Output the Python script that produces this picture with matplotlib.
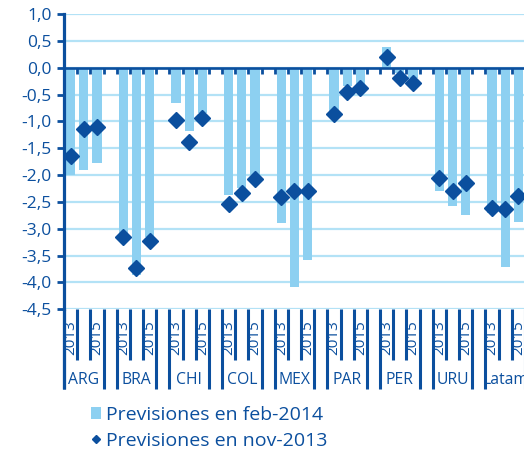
import matplotlib
matplotlib.use("Agg")
from matplotlib import pyplot as plt
from matplotlib import transforms
from matplotlib.ticker import FuncFormatter

groups = ["ARG", "BRA", "CHI", "COL", "MEX", "PAR", "PER", "URU", "Latam"]
years = ["2013", "2014", "2015"]
shown_years = ["2013", "2015"]

# previsiones en feb-2014 (barras)
feb_2014 = [
    -2.00, -1.90, -1.77,
    -3.10, -3.86, -3.15,
    -0.65, -1.17, -0.85,
    -2.37, -2.25, -2.00,
    -2.89, -4.09, -3.59,
    -0.80, -0.35, -0.30,
    0.39, -0.10, -0.20,
    -2.30, -2.57, -2.74,
    -2.70, -3.72, -2.87,
]
# previsiones en nov-2013 (rombos)
nov_2013 = [
    -1.64, -1.14, -1.11,
    -3.16, -3.74, -3.23,
    -0.97, -1.38, -0.94,
    -2.54, -2.34, -2.08,
    -2.40, -2.30, -2.30,
    -0.87, -0.45, -0.37,
    0.19, -0.19, -0.29,
    -2.06, -2.30, -2.15,
    -2.61, -2.64, -2.39,
]

DARK = "#0b4f9e"
LIGHT = "#8dd0f1"
GRID = "#b3e2f6"

plt.rcParams["font.family"] = ["Open Sans", "DejaVu Sans"]

W, H = 524, 457
fig = plt.figure(figsize=(W / 100, H / 100), dpi=100)
slot = 13.17
ax = fig.add_axes([64 / W, (H - 309.3) / H, 36 * slot / W, 295.3 / H])

# 4 slots per group: 3 years + hueco
xs = []
for g in range(len(groups)):
    for k in range(len(years)):
        xs.append(4 * g + k)

bars = ax.bar(xs, feb_2014, width=0.7, color=LIGHT, zorder=2, label="Previsiones en feb-2014")
dots, = ax.plot(xs, nov_2013, linestyle="none", marker="D", markersize=8.2, color=DARK,
                zorder=4, label="Previsiones en nov-2013")

ax.set_xlim(-0.5, 35.5)
ax.set_ylim(-4.5, 1.0)
ax.set_yticks([v / 2 for v in range(-9, 3)])
ax.yaxis.set_major_formatter(FuncFormatter(lambda v, _: f"{v:.1f}".replace(".", ",")))
ax.grid(axis="y", color=GRID, linewidth=1.6, zorder=0)
ax.set_axisbelow(True)

for side in ["top", "right", "bottom"]:
    ax.spines[side].set_visible(False)
ax.spines["left"].set_color(DARK)
ax.spines["left"].set_linewidth(2.3)
ax.spines["left"].set_zorder(5)

ax.tick_params(axis="y", colors=DARK, length=5, width=2, pad=4, labelsize=12.5)
ax.tick_params(axis="x", bottom=False, labelbottom=False)

# zero line with small ticks between categories
ax.axhline(0, color=DARK, linewidth=1.9, zorder=3)
boundaries = [b - 0.5 for b in range(1, 36)]
ax.plot(boundaries, [0] * len(boundaries), linestyle="none", marker=3, markersize=4,
        markeredgewidth=2, color=DARK, zorder=3)

# category axis below the plot
trans = transforms.blended_transform_factory(ax.transData, fig.transFigure)
y_top = (H - 309) / H
y_short = (H - 360) / H
y_long = (H - 389) / H
ax.vlines([-0.5], y_long, y_top, transform=trans, color=DARK, linewidth=2.3, clip_on=False)
for g, name in enumerate(groups):
    s = 4 * g
    ax.vlines([s - 0.5, s + 2.5], y_long, y_top, transform=trans, color=DARK,
              linewidth=2.2, clip_on=False)
    ax.vlines([s + 0.5, s + 1.5], y_short, y_top, transform=trans, color=DARK,
              linewidth=2.2, clip_on=False)
    for k, yr in enumerate(years):
        if yr in shown_years:
            ax.text(s + k, (H - 320) / H, yr, transform=trans, rotation=90,
                    ha="center", va="top", color=DARK, fontsize=11)
    ax.text(s + 1, (H - 380) / H, name, transform=trans, ha="center", va="center",
            color=DARK, fontsize=11.3)

ax.legend(handles=[bars, dots], loc="upper left", bbox_to_anchor=(90.5 / W, (H - 406) / H),
          bbox_transform=fig.transFigure, frameon=False, fontsize=14,
          labelcolor=DARK, handlelength=0.55, handleheight=0.55, handletextpad=0.25,
          labelspacing=0.4, borderpad=0, borderaxespad=0, markerscale=0.52)

fig.savefig("out.png", dpi=100)
